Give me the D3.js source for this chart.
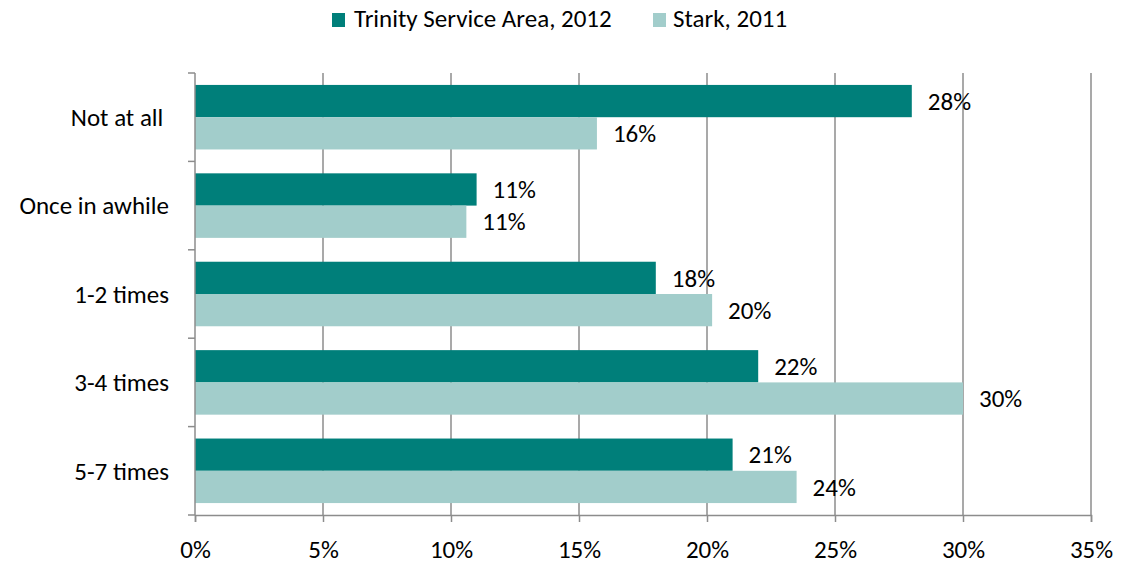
<!DOCTYPE html>
<html>
<head>
<meta charset="utf-8">
<script src="https://cdn.jsdelivr.net/npm/d3@7"></script>
<style>
  html, body { margin: 0; padding: 0; background: #fff; }
  svg text { font-family: Calibri, Carlito, "Open Sans", sans-serif; fill: #000; }
</style>
</head>
<body>
<svg id="chart" width="1122" height="565"></svg>
<script>
// Frequency categories, top to bottom
const categories = ["Not at all ", "Once in awhile", "1-2 times", "3-4 times", "5-7 times"];
// Series names shown in the legend
const seriesNames = ["Trinity Service Area, 2012", "Stark, 2011"];
// Percent of respondents per category
const trinity2012 = [28.0, 11.0, 18.0, 22.0, 21.0];
const stark2011 = [15.7, 10.6, 20.2, 30.0, 23.5];
// Axis ticks (percent)
const xTicks = [0, 5, 10, 15, 20, 25, 30, 35];

const colors = ["#007F7A", "#A2CDCB"];
const seriesValues = [trinity2012, stark2011];
const FS = 25;

const svg = d3.select("#chart");
const margin = { left: 195, right: 31, top: 73, bottom: 50 };
const width = 1122 - margin.left - margin.right;
const height = 565 - margin.top - margin.bottom;

const x = d3.scaleLinear().domain([0, 35]).range([margin.left, margin.left + width]);
const y = d3.scaleBand().domain(categories)
  .range([margin.top, margin.top + height])
  .paddingInner(0.27).paddingOuter(0.135);
const ySub = d3.scaleBand().domain(d3.range(seriesNames.length)).range([0, y.bandwidth()]);

// Vertical gridlines
svg.append("g")
  .selectAll("line")
  .data(xTicks.slice(1))
  .join("line")
  .attr("x1", d => x(d)).attr("x2", d => x(d))
  .attr("y1", margin.top).attr("y2", margin.top + height)
  .attr("stroke", "#8c8c8c").attr("stroke-width", 1.5);

// Bars
const rows = categories.map((c, i) => ({ cat: c, vals: seriesValues.map(s => s[i]) }));
const groups = svg.append("g").selectAll("g")
  .data(rows)
  .join("g")
  .attr("transform", d => `translate(0,${y(d.cat)})`);

groups.selectAll("rect")
  .data(d => d.vals.map((v, k) => ({ v, k })))
  .join("rect")
  .attr("x", x(0))
  .attr("y", d => ySub(d.k))
  .attr("width", d => x(d.v) - x(0))
  .attr("height", ySub.bandwidth())
  .attr("fill", d => colors[d.k]);

// Value labels
groups.selectAll("text")
  .data(d => d.vals.map((v, k) => ({ v, k })))
  .join("text")
  .attr("x", d => x(d.v) + 16)
  .attr("y", d => ySub(d.k) + ySub.bandwidth() / 2)
  .attr("dy", "0.35em")
  .attr("font-size", FS)
  .text(d => Math.round(d.v) + "%");

// X axis
const xAxis = svg.append("g")
  .attr("transform", `translate(0,${margin.top + height})`)
  .call(d3.axisBottom(x).tickValues(xTicks).tickFormat(d => d + "%").tickSize(7).tickPadding(18));
xAxis.select(".domain").attr("stroke", "#8c8c8c").attr("stroke-width", 1.5);
xAxis.selectAll(".tick line").attr("stroke", "#8c8c8c").attr("stroke-width", 1.5);
xAxis.selectAll(".tick text").attr("font-size", FS).attr("font-family", null);

// Y axis: ticks at band boundaries, labels centred in bands
const yAxisG = svg.append("g").attr("transform", `translate(${margin.left},0)`);
yAxisG.append("line")
  .attr("x1", 0).attr("x2", 0)
  .attr("y1", margin.top).attr("y2", margin.top + height)
  .attr("stroke", "#8c8c8c").attr("stroke-width", 1.5);
const boundaries = d3.range(categories.length + 1).map(i => margin.top + i * y.step());
yAxisG.selectAll("line.tick")
  .data(boundaries)
  .join("line")
  .attr("class", "tick")
  .attr("x1", -7).attr("x2", 0)
  .attr("y1", d => d).attr("y2", d => d)
  .attr("stroke", "#8c8c8c").attr("stroke-width", 1.5);
yAxisG.selectAll("text")
  .data(categories)
  .join("text")
  .attr("x", -26)
  .attr("y", d => y(d) + y.bandwidth() / 2)
  .attr("dy", "0.35em")
  .attr("text-anchor", "end")
  .attr("font-size", FS)
  .style("white-space", "pre")
  .text(d => d);

// Legend
const legendX = [332, 653];
const legend = svg.append("g").selectAll("g")
  .data(seriesNames)
  .join("g")
  .attr("transform", (d, i) => `translate(${legendX[i]},13)`);
legend.append("rect")
  .attr("width", 13).attr("height", 14)
  .attr("fill", (d, i) => colors[i]);
legend.append("text")
  .attr("x", (d, i) => i === 0 ? 22 : 20).attr("y", 14)
  .attr("font-size", FS)
  .text(d => d);
</script>
</body>
</html>
